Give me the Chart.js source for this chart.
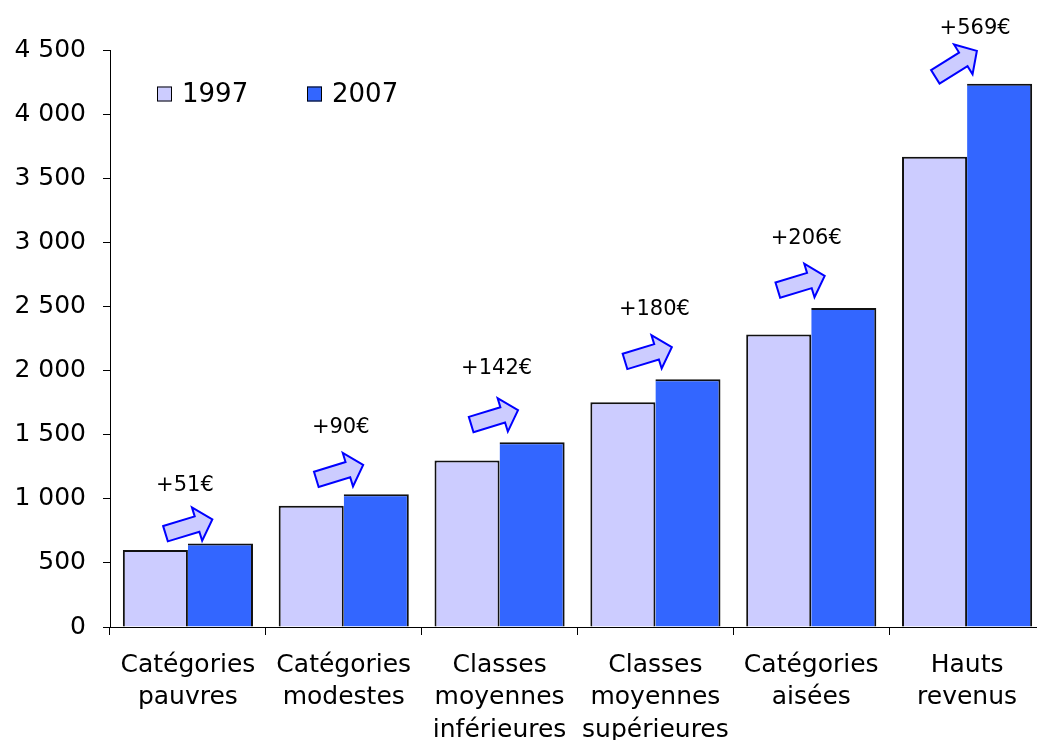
<!DOCTYPE html>
<html>
<head>
<meta charset="utf-8">
<script src="https://cdn.jsdelivr.net/npm/chart.js@4/dist/chart.umd.min.js"></script>
<style>
  html, body { margin: 0; padding: 0; background: #fff; overflow: hidden; }
  #wrap { position: relative; width: 1060px; height: 740px; }
</style>
</head>
<body>
<div id="wrap"><canvas id="chart"></canvas></div>
<script>
// Data
const categories = [
    ['Catégories', 'pauvres'],
    ['Catégories', 'modestes'],
    ['Classes', 'moyennes', 'inférieures'],
    ['Classes', 'moyennes', 'supérieures'],
    ['Catégories', 'aisées'],
    ['Hauts', 'revenus']
];
const values1997 = [600, 946, 1298, 1752, 2282, 3667];
const values2007 = [651, 1036, 1440, 1932, 2488, 4236];
const gainLabels = ['+51€', '+90€', '+142€', '+180€', '+206€', '+569€'];
const yTicks = [0, 500, 1000, 1500, 2000, 2500, 3000, 3500, 4000, 4500];

const FONT = '"DejaVu Sans", Verdana, sans-serif';

function fmt(v) {
    return String(v).replace(/\B(?=(\d{3})+(?!\d))/g, ' ');
}

// block arrows + gain labels above each group
// small per-group nudges (px) to follow the hand placement in the original
const arrowNudge = [[8, 8], [3, 3], [2, 0], [0, 0], [-3, 0], [-4, 5]];
const labelNudge = [[0, 11], [0, 2], [0, -5], [2, -1], [-2, 0], [11, 14]];

const arrowPlugin = {
    id: 'gainArrows',
    afterDatasetsDraw(chart) {
        const ctx = chart.ctx;
        const x = chart.scales.x, y = chart.scales.y;
        categories.forEach((c, i) => {
            const xc = x.getPixelForValue(i);
            const top = y.getPixelForValue(values2007[i]);
            const cx = xc - 7 + arrowNudge[i][0];
            const cy = top - 25 + arrowNudge[i][1];
            const ang = (i === categories.length - 1 ? -32 : -17) * Math.PI / 180;
            ctx.save();
            ctx.translate(cx, cy);
            ctx.rotate(ang);
            const L = 49, sw = 8, hw = 17.5, hl = 16;
            ctx.beginPath();
            ctx.moveTo(-L / 2, -sw);
            ctx.lineTo(L / 2 - hl, -sw);
            ctx.lineTo(L / 2 - hl, -hw);
            ctx.lineTo(L / 2, 0);
            ctx.lineTo(L / 2 - hl, hw);
            ctx.lineTo(L / 2 - hl, sw);
            ctx.lineTo(-L / 2, sw);
            ctx.closePath();
            ctx.fillStyle = '#CCCCFF';
            ctx.fill();
            ctx.lineWidth = 2;
            ctx.strokeStyle = '#0000FF';
            ctx.lineJoin = 'miter';
            ctx.stroke();
            ctx.restore();

            ctx.save();
            ctx.font = '21px ' + FONT;
            ctx.fillStyle = '#000';
            ctx.textAlign = 'center';
            ctx.textBaseline = 'middle';
            ctx.fillText(gainLabels[i], xc - 3 + labelNudge[i][0], top - 69 + labelNudge[i][1]);
            ctx.restore();
        });
    },
    afterDraw(chart) {
        // legend inside the plot, top left
        const ctx = chart.ctx;
        const left = chart.chartArea.left;
        ctx.save();
        ctx.font = '26px ' + FONT;
        ctx.textBaseline = 'middle';
        chart.data.datasets.forEach((ds, i) => {
            const bx = left + 47 + i * 150;
            const by = 94;
            ctx.fillStyle = ds.backgroundColor;
            ctx.fillRect(bx, by - 7.5, 15, 15);
            ctx.lineWidth = 1;
            ctx.strokeStyle = '#000';
            ctx.strokeRect(bx + 0.5, by - 7, 14, 14);
            ctx.fillStyle = '#000';
            ctx.fillText(ds.label, bx + 25, by + 1);
        });
        ctx.restore();
    }
};

new Chart(document.getElementById('chart'), {
    type: 'bar',
    data: {
        labels: categories,
        datasets: [
            {
                label: '1997',
                data: values1997,
                backgroundColor: '#CCCCFF',
                borderColor: '#111',
                borderWidth: { top: 2, left: 2, right: 2, bottom: 0 }
            },
            {
                label: '2007',
                data: values2007,
                backgroundColor: '#3366FF',
                borderColor: '#111',
                borderWidth: { top: 2, left: 0, right: 2, bottom: 0 }
            }
        ]
    },
    options: {
        responsive: true,
        maintainAspectRatio: false,
        animation: false,
        categoryPercentage: 0.835,
        barPercentage: 1.0,
        layout: { padding: { top: 50, right: 15, left: 0, bottom: 0 } },
        plugins: {
            legend: { display: false },
            tooltip: { enabled: false }
        },
        scales: {
            x: {
                grid: { offset: true, drawOnChartArea: false, drawTicks: true, tickLength: 8, color: '#000' },
                border: { color: '#000', width: 1 },
                ticks: {
                    color: '#000',
                    maxRotation: 0,
                    autoSkip: false,
                    padding: 14,
                    font: { family: FONT, size: 25, lineHeight: 1.3 }
                },
                afterFit(scale) { scale.height = 113; }
            },
            y: {
                min: 0,
                max: 4500,
                grid: { drawOnChartArea: false, drawTicks: true, tickLength: 7, color: '#000' },
                border: { color: '#000', width: 1 },
                afterBuildTicks(scale) { scale.ticks = yTicks.map(v => ({ value: v })); },
                ticks: {
                    color: '#000',
                    padding: 17,
                    font: { family: FONT, size: 25 },
                    callback: v => fmt(v)
                },
                afterFit(scale) { scale.width = 110; }
            }
        }
    },
    plugins: [arrowPlugin]
});
</script>
</body>
</html>
